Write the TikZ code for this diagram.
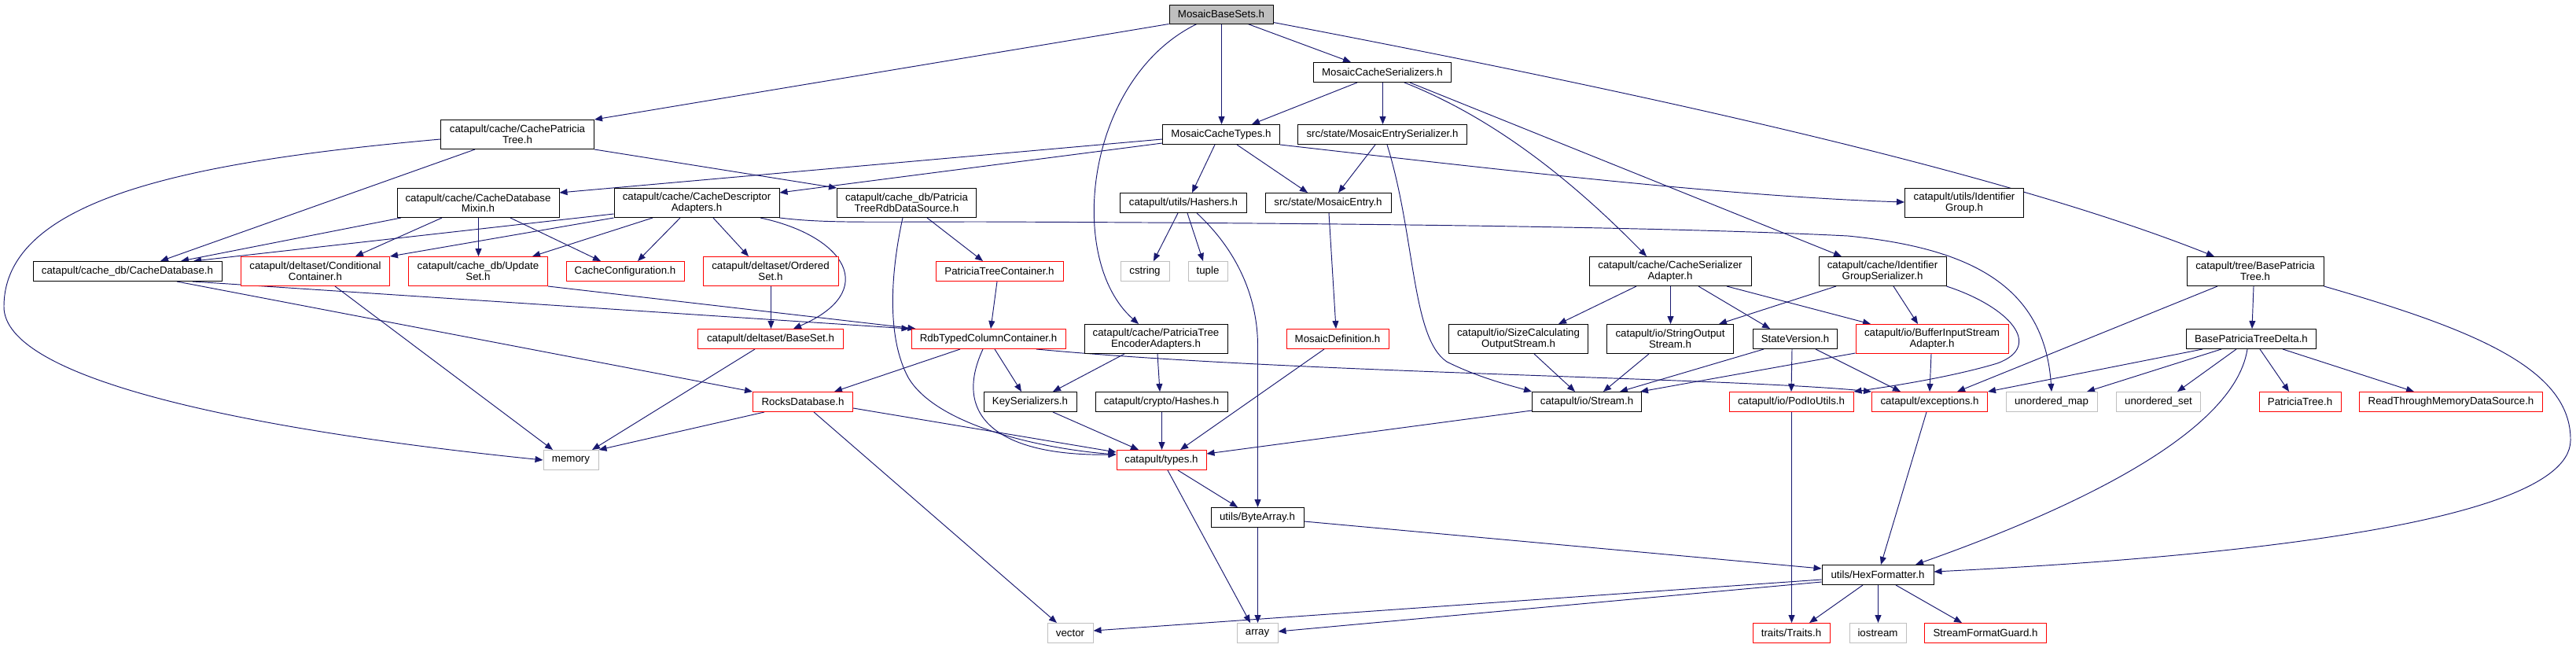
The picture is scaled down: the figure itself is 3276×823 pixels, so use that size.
\documentclass[tikz,border=0pt]{standalone}
\usepackage{fontspec}
\setmainfont{Liberation Sans}
\usetikzlibrary{arrows.meta,backgrounds}
\definecolor{dblue}{HTML}{191970}
\definecolor{lgray}{HTML}{BFBFBF}
\tikzset{
  boxbase/.style={rectangle, inner sep=0pt, minimum height=25pt, align=center,
    font=\fontsize{13.3}{13.6}\selectfont, line width=1pt, fill=white},
  nb/.style={boxbase, draw=black},
  rb/.style={boxbase, draw=red},
  gb/.style={boxbase, draw=lgray},
  rootb/.style={boxbase, draw=black, fill=lgray},
  two/.style={minimum height=37pt},
  dep/.style={draw=dblue, line width=0.95pt, -{Triangle[length=10pt,width=8pt]}},
}
\begin{document}
\begin{tikzpicture}[x=1pt,y=-1pt]
\useasboundingbox (0,0) rectangle (3276,823);
% nodes
\node[rootb, minimum width=132pt, minimum height=24pt] (root) at (1553,18) {MosaicBaseSets.h};
\node[nb, minimum width=175pt] (ser) at (1758,92) {MosaicCacheSerializers.h};
\node[nb, two, minimum width=195pt] (cpt) at (658,171) {catapult/cache/CachePatricia\\Tree.h};
\node[nb, minimum width=149pt] (mct) at (1553,171) {MosaicCacheTypes.h};
\node[nb, minimum width=215pt] (mes) at (1758,171) {src/state/MosaicEntrySerializer.h};
\node[nb, two, minimum width=206pt] (mix) at (608,258) {catapult/cache/CacheDatabase\\Mixin.h};
\node[nb, two, minimum width=210pt] (cda) at (886,258) {catapult/cache/CacheDescriptor\\Adapters.h};
\node[nb, two, minimum width=177pt] (rds) at (1153,258) {catapult/cache\_db/Patricia\\TreeRdbDataSource.h};
\node[nb, minimum width=161pt] (hsh) at (1505,258) {catapult/utils/Hashers.h};
\node[nb, minimum width=160pt] (me) at (1689,258) {src/state/MosaicEntry.h};
\node[nb, two, minimum width=151pt] (idg) at (2498,258) {catapult/utils/Identifier\\Group.h};
\node[nb, minimum width=240pt] (cdb) at (162,345) {catapult/cache\_db/CacheDatabase.h};
\node[rb, two, minimum width=189pt] (cc) at (401,345) {catapult/deltaset/Conditional\\Container.h};
\node[rb, two, minimum width=177pt] (us) at (608,345) {catapult/cache\_db/Update\\Set.h};
\node[rb, minimum width=150pt] (cfg) at (795,345) {CacheConfiguration.h};
\node[rb, two, minimum width=172pt] (os) at (980,345) {catapult/deltaset/Ordered\\Set.h};
\node[rb, minimum width=162pt] (ptc) at (1271,345) {PatriciaTreeContainer.h};
\node[gb, minimum width=62pt] (cstr) at (1456,345) {cstring};
\node[gb, minimum width=50pt] (tup) at (1536,345) {tuple};
\node[nb, two, minimum width=206pt] (csa) at (2124,345) {catapult/cache/CacheSerializer\\Adapter.h};
\node[nb, two, minimum width=162pt] (igs) at (2394,345) {catapult/cache/Identifier\\GroupSerializer.h};
\node[nb, two, minimum width=174pt] (bpt) at (2868,345) {catapult/tree/BasePatricia\\Tree.h};
\node[rb, minimum width=185pt] (bs) at (980,431) {catapult/deltaset/BaseSet.h};
\node[rb, minimum width=196pt] (rtc) at (1257,431) {RdbTypedColumnContainer.h};
\node[nb, two, minimum width=182pt] (pte) at (1470,431) {catapult/cache/PatriciaTree\\EncoderAdapters.h};
\node[rb, minimum width=130pt] (md) at (1701,431) {MosaicDefinition.h};
\node[nb, two, minimum width=177pt] (scs) at (1931,431) {catapult/io/SizeCalculating\\OutputStream.h};
\node[nb, two, minimum width=161pt] (sos) at (2124,431) {catapult/io/StringOutput\\Stream.h};
\node[nb, minimum width=107pt] (sv) at (2283,431) {StateVersion.h};
\node[rb, two, minimum width=194pt] (bis) at (2457,431) {catapult/io/BufferInputStream\\Adapter.h};
\node[nb, minimum width=165pt] (bpd) at (2863,431) {BasePatriciaTreeDelta.h};
\node[rb, minimum width=127pt] (rdb) at (1021,511) {RocksDatabase.h};
\node[nb, minimum width=118pt] (ks) at (1310,511) {KeySerializers.h};
\node[nb, minimum width=168pt] (ch) at (1477,511) {catapult/crypto/Hashes.h};
\node[nb, minimum width=139pt] (st) at (2018,511) {catapult/io/Stream.h};
\node[rb, minimum width=158pt] (piu) at (2278,511) {catapult/io/PodIoUtils.h};
\node[rb, minimum width=147pt] (exc) at (2454,511) {catapult/exceptions.h};
\node[gb, minimum width=116pt] (umap) at (2609,511) {unordered\_map};
\node[gb, minimum width=107pt] (uset) at (2745,511) {unordered\_set};
\node[rb, minimum width=104pt] (pt) at (2925,511) {PatriciaTree.h};
\node[rb, minimum width=233pt] (rtm) at (3117,511) {ReadThroughMemoryDataSource.h};
\node[gb, minimum width=70pt] (mem) at (726,585) {memory};
\node[rb, minimum width=114pt] (typ) at (1477,585) {catapult/types.h};
\node[nb, minimum width=118pt] (ba) at (1599,658) {utils/ByteArray.h};
\node[nb, minimum width=142pt] (hex) at (2388,731) {utils/HexFormatter.h};
\node[gb, minimum width=58pt] (vec) at (1361,805) {vector};
\node[gb, minimum width=52pt] (arr) at (1599,805) {array};
\node[rb, minimum width=98pt] (tr) at (2278,805) {traits/Traits.h};
\node[gb, minimum width=72pt] (ios) at (2388,805) {iostream};
\node[rb, minimum width=155pt] (sfg) at (2525,805) {StreamFormatGuard.h};
% edges
\begin{scope}[on background layer]
\fill[white] (0,0) rectangle (3276,823);
\draw[dep] (root.south west) -- (cpt.north east);
\draw[dep] ([xshift=0.5pt]root.south) -- ([xshift=0.5pt]mct.north);
\draw[dep] ([xshift=34pt]root.south) -- ([xshift=-40pt]ser.north);
\draw[dep] ([yshift=2pt]root.south east) .. controls (2100,120) and (2550,220) .. ([xshift=-52pt]bpt.north);
\draw[dep] ([xshift=-31pt]root.south) .. controls (1380,100) and (1355,330) .. ([xshift=-22pt]pte.north);
\draw[dep] ([xshift=-32pt]ser.south) -- ([xshift=39pt]mct.north);
\draw[dep] ([xshift=0.5pt]ser.south) -- ([xshift=0.5pt]mes.north);
\draw[dep] ([xshift=28pt]ser.south) .. controls (1900,150) and (2000,230) .. ([xshift=-30pt]csa.north);
\draw[dep] ([xshift=35pt]ser.south) -- ([xshift=-52pt]igs.north);
\draw[dep] ([yshift=-6pt]cpt.west) .. controls (250,205) and (5,250) .. (5,390) .. controls (5,480) and (300,545) .. (mem.west);
\draw[dep] ([xshift=-54pt]cpt.south) -- ([xshift=42pt]cdb.north);
\draw[dep] (cpt.south east) -- (rds.north west);
\draw[dep] ([yshift=-6pt]mct.west) -- ([yshift=13pt]mix.east);
\draw[dep] ([yshift=-11pt]mct.west) -- ([yshift=13pt]cda.east);
\draw[dep] ([xshift=-8pt]mct.south) -- ([xshift=11pt]hsh.north);
\draw[dep] ([xshift=20pt]mct.south) -- ([xshift=-26pt]me.north);
\draw[dep] (mct.south east) .. controls (1900,215) and (2200,250) .. ([yshift=1pt]idg.west);
\draw[dep] ([xshift=-9pt]mes.south) -- ([xshift=13pt]me.north);
\draw[dep] ([xshift=6pt]mes.south) .. controls (1800,300) and (1795,430) .. (1840,460) .. controls (1880,480) and (1920,490) .. (st.north west);
\draw[dep] ([xshift=-98pt]mix.south) -- ([xshift=68pt]cdb.north);
\draw[dep] ([xshift=-46pt]mix.south) -- ([xshift=51pt]cc.north);
\draw[dep] ([xshift=0.5pt]mix.south) -- ([xshift=0.5pt]us.north);
\draw[dep] ([xshift=41pt]mix.south) -- ([xshift=-31pt]cfg.north);
\draw[dep] ([yshift=-14pt]cda.west) -- ([xshift=84pt]cdb.north);
\draw[dep] (cda.south west) -- (cc.north east);
\draw[dep] ([xshift=-56pt]cda.south) -- ([xshift=69pt]us.north);
\draw[dep] ([xshift=-21pt]cda.south) -- ([xshift=16pt]cfg.north);
\draw[dep] ([xshift=21pt]cda.south) -- ([xshift=-28pt]os.north);
\draw[dep] ([xshift=81pt]cda.south) .. controls (1075,300) and (1120,370) .. ([xshift=29pt]bs.north);
\draw[dep] (cda.south east) .. controls (1050,284) and (1100,282) .. (1250,282) .. controls (1800,284) and (2150,290) .. (2350,300) .. controls (2500,315) and (2600,360) .. (umap.north);
\draw[dep] ([xshift=26pt]rds.south) -- ([xshift=-21pt]ptc.north);
\draw[dep] ([xshift=-5pt]rds.south) .. controls (1132,350) and (1128,430) .. (1155,480) .. controls (1190,540) and (1320,570) .. ([yshift=7pt]typ.west);
\draw[dep] ([xshift=-7pt]hsh.south) -- ([xshift=11pt]cstr.north);
\draw[dep] ([xshift=5pt]hsh.south) -- ([xshift=-6pt]tup.north);
\draw[dep] ([xshift=17pt]hsh.south) .. controls (1575,320) and (1599.5,380) .. (1599.5,440) -- ([xshift=0.5pt]ba.north);
\draw[dep] ([xshift=1pt]me.south) -- ([xshift=-2pt]md.north);
\draw[dep] ([xshift=-17pt]md.south) -- ([xshift=24pt]typ.north);
\draw[dep] ([xshift=-40pt]pte.south) -- ([xshift=29pt]ks.north);
\draw[dep] ([xshift=2pt]pte.south) -- ([xshift=-2pt]ch.north);
\draw[dep] ([xshift=29pt]ks.south) -- ([xshift=-29pt]typ.north);
\draw[dep] ([xshift=0.5pt]ch.south) -- ([xshift=0.5pt]typ.north);
\draw[dep] ([xshift=-36pt]rtc.south) -- ([xshift=40pt]rdb.north);
\draw[dep] ([xshift=8pt]rtc.south) -- ([xshift=-11pt]ks.north);
\draw[dep] ([xshift=-7pt]rtc.south) .. controls (1210,530) and (1270,580) .. ([yshift=7pt]typ.west);
\draw[dep] ([xshift=61pt]rtc.south) .. controls (1650,475) and (2200,480) .. (exc.north west);
\draw[dep] ([xshift=63pt]cdb.south) -- ([xshift=-64pt]rdb.north);
\draw[dep] ([xshift=83pt]cdb.south) -- ([xshift=-2pt]rtc.north west);
\draw[dep] (us.south east) -- ([xshift=6pt]rtc.north west);
\draw[dep] ([xshift=25pt]cc.south) -- ([xshift=-23pt]mem.north);
\draw[dep] ([xshift=-20pt]bs.south) -- ([xshift=27pt]mem.north);
\draw[dep] ([xshift=-49pt]rdb.south) -- (mem.north east);
\draw[dep] ([yshift=-8pt]rdb.east) -- ([yshift=10pt]typ.west);
\draw[dep] ([xshift=14pt]rdb.south) -- ([xshift=-17pt]vec.north);
\draw[dep] ([xshift=0.5pt]os.south) -- ([xshift=0.5pt]bs.north);
\draw[dep] ([xshift=-3pt]ptc.south) -- ([xshift=3pt]rtc.north);
\draw[dep] ([xshift=-43pt]csa.south) -- ([xshift=51pt]scs.north);
\draw[dep] ([xshift=0.5pt]csa.south) -- ([xshift=0.5pt]sos.north);
\draw[dep] ([xshift=36pt]csa.south) -- ([xshift=-32pt]sv.north);
\draw[dep] ([xshift=72pt]csa.south) -- ([xshift=-78pt]bis.north);
\draw[dep] ([xshift=-59pt]igs.south) -- ([xshift=62pt]sos.north);
\draw[dep] ([xshift=14pt]igs.south) -- ([xshift=-18pt]bis.north);
\draw[dep] (igs.south east) .. controls (2555,390) and (2600,440) .. (2540,462) .. controls (2480,480) and (2400,492) .. (piu.north east);
\draw[dep] ([xshift=-48pt]bpt.south) -- ([xshift=35pt]exc.north);
\draw[dep] ([xshift=-2pt]bpt.south) -- ([xshift=1pt]bpd.north);
\draw[dep] (bpt.south east) .. controls (3150,420) and (3270,470) .. (3269,560) .. controls (3268,680) and (2700,715) .. ([yshift=4pt]hex.east);
\draw[dep] ([xshift=-62pt]bpd.south) -- (exc.north east);
\draw[dep] ([xshift=-38pt]bpd.south) -- ([xshift=45pt]umap.north);
\draw[dep] ([xshift=-19pt]bpd.south) -- ([xshift=24pt]uset.north);
\draw[dep] ([xshift=-5pt]bpd.south) .. controls (2840,560) and (2600,660) .. ([xshift=48pt]hex.north);
\draw[dep] ([xshift=11pt]bpd.south) -- ([xshift=-14pt]pt.north);
\draw[dep] ([xshift=40pt]bpd.south) -- ([xshift=-47pt]rtm.north);
\draw[dep] ([xshift=-40pt]sv.south) -- ([xshift=42pt]st.north);
\draw[dep] ([xshift=-4pt]sv.south) -- (piu.north);
\draw[dep] ([xshift=26pt]sv.south) -- ([xshift=-37pt]exc.north);
\draw[dep] ([yshift=-18pt]bis.west) -- ([xshift=68pt]st.north);
\draw[dep] ([xshift=-1pt]bis.south) -- (exc.north);
\draw[dep] ([xshift=20pt]scs.south) -- ([xshift=-15pt]st.north);
\draw[dep] ([xshift=-27pt]sos.south) -- ([xshift=21pt]st.north);
\draw[dep] ([yshift=-11pt]st.west) -- ([yshift=8pt]typ.east);
\draw[dep] ([xshift=0.5pt]piu.south) -- ([xshift=0.5pt]tr.north);
\draw[dep] ([xshift=-4pt]exc.south) -- ([xshift=4pt]hex.north);
\draw[dep] ([xshift=21pt]typ.south) -- ([xshift=-25pt]ba.north);
\draw[dep] ([xshift=8pt]typ.south) -- ([xshift=-9pt]arr.north);
\draw[dep] ([xshift=0.5pt]ba.south) -- ([xshift=0.5pt]arr.north);
\draw[dep] ([yshift=-5pt]ba.east) -- ([yshift=8pt]hex.west);
\draw[dep] ([yshift=-6pt]hex.west) -- ([yshift=3pt]vec.east);
\draw[dep] ([yshift=-9pt]hex.west) -- ([yshift=2pt]arr.east);
\draw[dep] ([xshift=-19pt]hex.south) -- ([xshift=23pt]tr.north);
\draw[dep] ([xshift=0.5pt]hex.south) -- ([xshift=0.5pt]ios.north);
\draw[dep] ([xshift=23pt]hex.south) -- ([xshift=-30pt]sfg.north);
\end{scope}
\end{tikzpicture}
\end{document}
